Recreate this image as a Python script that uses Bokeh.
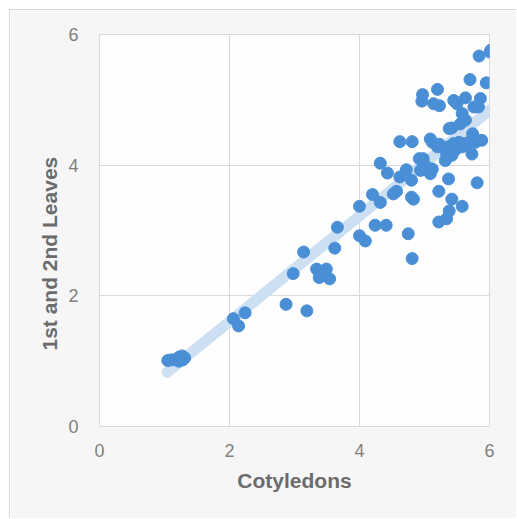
from bokeh.plotting import figure
from bokeh.models import FixedTicker, ColumnDataSource, Title
from bokeh.embed import file_html
from bokeh.resources import INLINE

cotyledons = [1.05, 1.11, 1.22, 1.27, 1.31, 1.22, 1.28,
              2.06, 2.14, 2.24, 2.87, 3.19, 2.98, 3.14,
              3.34, 3.49, 3.38, 3.54, 3.42, 3.62, 3.66,
              4.00, 4.09, 4.00, 4.20, 4.32, 4.24, 4.41, 4.32, 4.43,
              4.52, 4.57, 4.62, 4.72, 4.80, 4.62, 4.81, 4.80, 4.83, 4.75, 4.81,
              4.92, 4.98, 4.94, 5.09, 5.12, 5.04,
              4.97, 4.96, 5.14, 5.23, 5.20,
              5.09, 5.12, 5.20, 5.23, 5.32, 5.34, 5.37, 5.38, 5.42,
              5.22, 5.37, 5.42, 5.38, 5.34, 5.22, 5.58,
              5.45, 5.50, 5.63, 5.58, 5.55, 5.63, 5.70, 5.76, 5.83, 5.86, 5.84, 6.02, 6.01, 5.95,
              5.45, 5.53, 5.60, 5.68, 5.74, 5.73, 5.88, 5.81, 5.47, 5.42, 5.50, 5.58, 5.65, 5.78, 5.81]
leaves = [1.01, 1.02, 1.06, 1.08, 1.05, 1.00, 1.02,
          1.65, 1.54, 1.74, 1.87, 1.77, 2.34, 2.67,
          2.41, 2.41, 2.28, 2.26, 2.34, 2.73, 3.05,
          2.92, 2.84, 3.37, 3.55, 3.43, 3.08, 3.08, 4.03, 3.88,
          3.56, 3.60, 3.82, 3.93, 3.77, 4.36, 4.36, 3.51, 3.48, 2.95, 2.57,
          4.10, 4.10, 3.92, 3.87, 3.94, 3.97,
          5.08, 4.98, 4.94, 4.91, 5.16,
          4.40, 4.35, 4.28, 4.32, 4.07, 4.17, 4.28, 4.56, 4.57,
          3.60, 3.79, 3.48, 3.30, 3.18, 3.13, 3.37,
          4.99, 4.94, 5.03, 4.79, 4.63, 4.69, 5.31, 4.89, 4.89, 5.02, 5.67, 5.76, 5.73, 5.26,
          4.33, 4.35, 4.33, 4.35, 4.48, 4.17, 4.38, 3.73, 4.23, 4.15, 4.28, 4.28, 4.33, 4.35, 4.38]

trend_x = [1.04, 6.0]
trend_y = [0.83, 4.84]

ticks = [0, 2, 4, 6]

p = figure(width=507, height=509, x_range=(0, 6), y_range=(0, 6),
           output_backend="svg", toolbar_location=None,
           min_border_left=89, min_border_right=28, min_border_top=24, min_border_bottom=93)

p.background_fill_color = "#fefefe"
p.border_fill_color = "#f6f6f6"
p.outline_line_color = "#d9d9d9"
p.styles = {"margin-left": "9px", "margin-top": "9px",
            "border-left": "1px solid #d6d6d6", "border-top": "1px solid #d6d6d6"}

p.line(trend_x, trend_y, line_color="#cde0f3", line_width=11, line_cap="round")

src = ColumnDataSource(dict(x=cotyledons, y=leaves))
p.scatter("x", "y", source=src, size=12, fill_color="#4a8fd6", line_color="#4a8fd6")

for ax in (p.xaxis[0], p.yaxis[0]):
    ax.ticker = FixedTicker(ticks=ticks)
    ax.axis_line_color = None
    ax.major_tick_line_color = None
    ax.minor_tick_line_color = None
    ax.major_label_text_font = "Liberation Sans"
    ax.major_label_text_font_size = "18px"
    ax.major_label_text_color = "#808080"
    ax.axis_label_text_font = "Liberation Sans"
    ax.axis_label_text_font_size = "21px"
    ax.axis_label_text_font_style = "bold"
    ax.axis_label_text_color = "#6b6b6b"

p.xaxis.axis_label = "Cotyledons"
p.xaxis.major_label_standoff = 11
p.yaxis.major_label_standoff = 15
p.xaxis.axis_label_standoff = 9

ytitle = Title(text="1st and 2nd Leaves", align="left", offset=76, standoff=9,
               text_font="Liberation Sans", text_font_size="21px",
               text_font_style="bold", text_color="#6b6b6b")
p.add_layout(ytitle, "left")

p.xgrid.ticker = FixedTicker(ticks=ticks)
p.ygrid.ticker = FixedTicker(ticks=ticks)
p.xgrid.grid_line_color = "#d9d9d9"
p.ygrid.grid_line_color = "#d9d9d9"

open("out.html", "w").write(file_html(p, INLINE))
